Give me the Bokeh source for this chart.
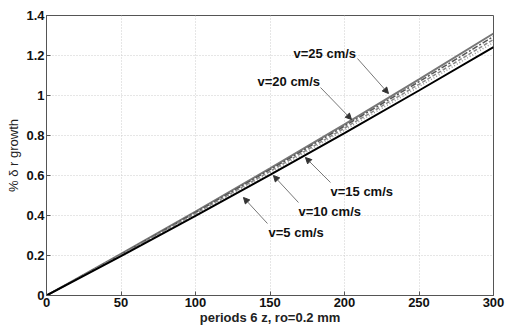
from bokeh.plotting import figure
from bokeh.models import Arrow, NormalHead, Label, FixedTicker, CustomJSTickFormatter, Range1d
from bokeh.embed import file_html
from bokeh.resources import INLINE

# data
periods = [0, 50, 100, 150, 200, 250, 300]
v5 = [0, 0.197, 0.398, 0.603, 0.812, 1.025, 1.242]
v10 = [0, 0.201, 0.405, 0.614, 0.827, 1.044, 1.265]
v15 = [0, 0.203, 0.410, 0.621, 0.837, 1.056, 1.280]
v20 = [0, 0.205, 0.415, 0.629, 0.847, 1.069, 1.295]
v25 = [0, 0.208, 0.420, 0.636, 0.856, 1.081, 1.310]
x_ticks = [0, 50, 100, 150, 200, 250, 300]
y_ticks = [0, 0.2, 0.4, 0.6, 0.8, 1.0, 1.2, 1.4]

# annotations: label, text pos (x, y), arrow start, arrow end
annotations = [
    ("v=25 cm/s", (165.8, 1.21), (208.7, 1.185), (229.5, 1.01)),
    ("v=20 cm/s", (141.6, 1.07), (183.9, 1.04), (204.7, 0.88)),
    ("v=15 cm/s", (190.6, 0.52), (190.6, 0.565), (173.8, 0.69)),
    ("v=10 cm/s", (169.1, 0.42), (169.1, 0.465), (152.3, 0.60)),
    ("v=5 cm/s", (149.0, 0.315), (148.3, 0.36), (132.2, 0.49)),
]

FONT = "Liberation Sans"

p = figure(width=505, height=330, output_backend="svg", toolbar_location=None,
           x_range=Range1d(0, 300), y_range=Range1d(0, 1.4),
           min_border_left=46, min_border_right=12, min_border_top=15, min_border_bottom=35)

p.outline_line_color = "#555555"
p.background_fill_color = "white"

# lines
p.line(periods, v25, line_color="#777777", line_width=2)
p.line(periods, v20, line_color="#555555", line_width=1.5, line_dash="6 2 2 2")
p.line(periods, v15, line_color="#888888", line_width=1.5, line_dash="4 2")
p.line(periods, v10, line_color="#999999", line_width=1.5, line_dash="1 2")
p.line(periods, v5, line_color="black", line_width=2)

for text, tpos, a0, a1 in annotations:
    p.add_layout(Arrow(end=NormalHead(size=6, fill_color="#333333", line_color="#333333"),
                       x_start=a0[0], y_start=a0[1], x_end=a1[0], y_end=a1[1],
                       line_color="#777777", line_width=1))
    p.add_layout(Label(x=tpos[0], y=tpos[1], text=text, text_font=FONT,
                       text_font_style="bold", text_font_size="13px",
                       text_baseline="middle", text_color="#111111"))

# axes
for ax in (p.xaxis[0], p.yaxis[0]):
    ax.major_label_text_font = FONT
    ax.major_label_text_font_style = "bold"
    ax.major_label_text_font_size = "13px"
    ax.major_label_text_color = "#111111"
    ax.axis_label_text_font = FONT
    ax.axis_label_text_font_size = "13px"
    ax.axis_label_text_color = "#222222"
    ax.major_tick_in = 4
    ax.major_tick_out = 0
    ax.minor_tick_line_color = None
    ax.axis_line_color = "#555555"
    ax.major_tick_line_color = "#555555"
    ax.major_label_standoff = 2

p.xaxis.ticker = FixedTicker(ticks=x_ticks)
p.yaxis.ticker = FixedTicker(ticks=y_ticks)
p.yaxis.formatter = CustomJSTickFormatter(code="return String(Math.round(tick*10)/10);")
p.xaxis.axis_label = "periods 6 z, ro=0.2 mm"
p.xaxis.axis_label_text_font_style = "bold"
p.xaxis.axis_label_standoff = 0
p.yaxis.axis_label = "% \u03b4 r growth"
p.yaxis.axis_label_text_font_style = "normal"
p.yaxis.axis_label_standoff = 2

p.grid.grid_line_color = "#cccccc"
p.grid.grid_line_dash = "1 2"
p.xgrid.ticker = FixedTicker(ticks=x_ticks)
p.ygrid.ticker = FixedTicker(ticks=y_ticks)

open("out.html", "w").write(file_html(p, INLINE))
